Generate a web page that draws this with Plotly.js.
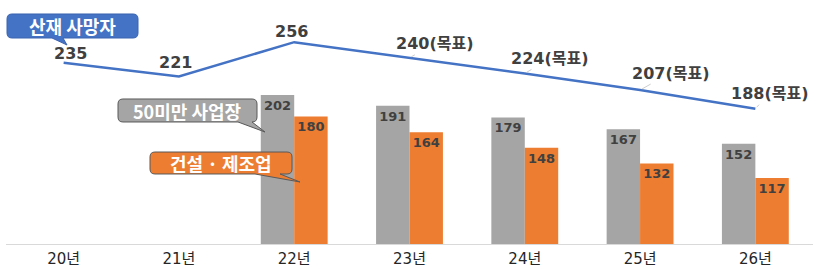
<!DOCTYPE html>
<html>
<head>
<meta charset="utf-8">
<script src="https://cdn.plot.ly/plotly-3.0.1.min.js"></script>
<style>html,body{margin:0;padding:0;background:#fff;}#chart{width:818px;height:269px;}</style>
</head>
<body>
<div id="chart"></div>
<script>
// ---- data ----
const categories = ['20년','21년','22년','23년','24년','25년','26년'];
const deaths = [235, 221, 256, 240, 224, 207, 188];
const labelSuffix = ['', '', '', '(목표)', '(목표)', '(목표)', '(목표)'];
const smallSites = [null, null, 202, 191, 179, 167, 152];
const constMfg = [null, null, 180, 164, 148, 132, 117];
const seriesNames = ['산재 사망자', '50미만 사업장', '건설 · 제조업'];

// ---- layout geometry helpers (page pixels -> paper) ----
const W = 818, H = 269, ML = 6, MR = 5, MT = 10, MB = 25;
const PW = W - ML - MR, PH = H - MT - MB;
const px = x => ((x - ML) / PW).toFixed(5);
const py = y => ((H - MB - y) / PH).toFixed(5);
function callout(x0, y0, x1, y1, r, tail) {
  const [bR, tx, ty, bL] = tail;
  const P = (x, y) => px(x) + ',' + py(y);
  return 'M' + P(x0 + r, y0) + ' L' + P(x1 - r, y0) + ' Q' + P(x1, y0) + ' ' + P(x1, y0 + r) +
    ' L' + P(x1, y1 - r) + ' Q' + P(x1, y1) + ' ' + P(x1 - r, y1) +
    ' L' + P(bR, y1) + ' L' + P(tx, ty) + ' L' + P(bL, y1) +
    ' L' + P(x0 + r, y1) + ' Q' + P(x0, y1) + ' ' + P(x0, y1 - r) +
    ' L' + P(x0, y0 + r) + ' Q' + P(x0, y0) + ' ' + P(x0 + r, y0) + ' Z';
}

const labelFont = {family: 'DejaVu Sans, Noto Sans CJK KR', size: 16, color: '#404040', weight: 'bold'};
const barFont = {family: 'DejaVu Sans, Noto Sans CJK KR', size: 13, color: '#404040', weight: 'bold'};
const calloutFont = {family: 'Noto Sans CJK KR', size: 18, color: '#ffffff', weight: 'bold'};

const traces = [
  {
    type: 'bar', x: categories, y: smallSites, name: seriesNames[1],
    marker: {color: '#A5A5A5'},
    text: smallSites.map(v => v === null ? '' : String(v)),
    textposition: 'inside', insidetextanchor: 'end', constraintext: 'none',
    textfont: barFont, hoverinfo: 'skip'
  },
  {
    type: 'bar', x: categories, y: constMfg, name: seriesNames[2],
    marker: {color: '#ED7D31'},
    text: constMfg.map(v => v === null ? '' : String(v)),
    textposition: 'inside', insidetextanchor: 'end', constraintext: 'none',
    textfont: barFont, hoverinfo: 'skip'
  },
  {
    type: 'scatter', mode: 'lines', x: categories, y: deaths, name: seriesNames[0],
    line: {color: '#4472C4', width: 2.5}, hoverinfo: 'skip'
  }
];

// line value labels
const annXShift = [7, -3, -3, 25, 25, 30, 14];
const annYShift = [-9, -14, -11, -14, -15, -17, -15];
const annotations = deaths.map((v, i) => {
  const target = labelSuffix[i] !== '';
  const a = {
    x: categories[i], y: v, xref: 'x', yref: 'y',
    text: String(v) + labelSuffix[i], font: labelFont
  };
  if (target) {
    Object.assign(a, {showarrow: true, arrowhead: 0, arrowwidth: 0.8, arrowcolor: '#BFBFBF',
      ax: annXShift[i], ay: annYShift[i], standoff: 2});
  } else {
    Object.assign(a, {showarrow: false, xshift: annXShift[i], yshift: -annYShift[i]});
  }
  return a;
});

// callout boxes
const boxes = [
  {box: [7, 14, 138, 38], tail: [63, 67, 45, 52], fill: '#4472C4', line: '#3A64B0', text: seriesNames[0]},
  {box: [118, 99, 257, 122], tail: [252, 265, 132, 238], fill: '#A5A5A5', line: '#595959', text: seriesNames[1]},
  {box: [150, 152, 292, 174], tail: [280, 300, 182, 255], fill: '#ED7D31', line: '#595959', text: seriesNames[2]}
];
const shapes = boxes.map(b => ({
  type: 'path', xref: 'paper', yref: 'paper',
  path: callout(b.box[0], b.box[1], b.box[2], b.box[3], 5, b.tail),
  fillcolor: b.fill, line: {color: b.line, width: 1}, layer: 'above'
}));
boxes.forEach(b => {
  annotations.push({
    xref: 'paper', yref: 'paper',
    x: Number(px((b.box[0] + b.box[2]) / 2)), y: Number(py((b.box[1] + b.box[3]) / 2)),
    xanchor: 'center', yanchor: 'middle', showarrow: false,
    text: b.text, font: calloutFont
  });
});

const layout = {
  width: W, height: H,
  margin: {l: ML, r: MR, t: MT, b: MB, pad: 0},
  paper_bgcolor: '#ffffff', plot_bgcolor: '#ffffff',
  showlegend: false,
  barmode: 'group', bargap: 0.42, bargroupgap: 0,
  xaxis: {
    type: 'category', showgrid: false, zeroline: false,
    showline: true, linecolor: '#D9D9D9', linewidth: 1,
    ticks: '', tickfont: {family: 'DejaVu Sans, Noto Sans CJK KR', size: 15, color: '#262626'},
    ticklabelstandoff: 1
  },
  yaxis: {
    range: [49.6, 288.9], visible: false, showgrid: false, zeroline: false, fixedrange: true
  },
  shapes: shapes,
  annotations: annotations
};

Plotly.newPlot('chart', traces, layout, {staticPlot: true, displayModeBar: false});
</script>
</body>
</html>
